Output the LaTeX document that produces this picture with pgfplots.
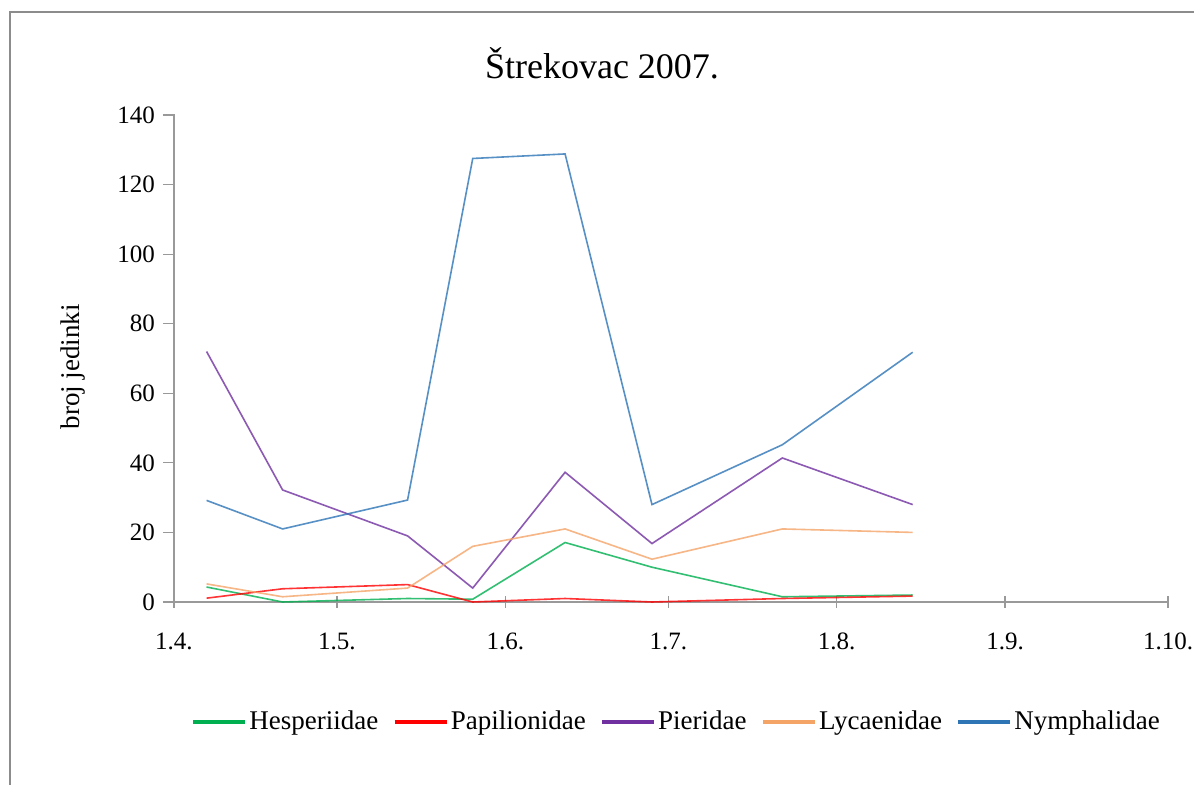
\documentclass[border=0pt]{standalone}
\usepackage{pgfplots}
\pgfplotsset{compat=1.18}
\usepackage{fontspec}
\setmainfont{Liberation Serif}
\definecolor{cHes}{HTML}{00B050}
\definecolor{cPap}{HTML}{FF0000}
\definecolor{cPie}{HTML}{7030A0}
\definecolor{cLyc}{HTML}{F5A468}
\definecolor{cNym}{HTML}{2E75B6}
\definecolor{axgray}{HTML}{999999}
\definecolor{bordergray}{HTML}{8C8C8C}
\begin{document}
\begin{tikzpicture}
\useasboundingbox (0,0) rectangle (597pt,392.5pt);
\fill[white] (0,0) rectangle (597pt,392.5pt);
\draw[bordergray,line width=1pt] (5pt,-2pt) -- (5pt,386.5pt) -- (600pt,386.5pt);
\node[font=\fontsize{18}{21}\selectfont] at (301pt,361pt) {Štrekovac 2007.};
\begin{axis}[
  at={(87pt,91.5pt)}, anchor=south west,
  scale only axis, width=497pt, height=243.5pt,
  xmin=0, xmax=183, ymin=0, ymax=140,
  axis x line=bottom, axis y line=left,
  axis line style={axgray,line width=0.8pt,-},
  xtick={0,30,61,91,122,153,183},
  xticklabels={1.4.,1.5.,1.6.,1.7.,1.8.,1.9.,1.10.},
  ytick={0,20,40,60,80,100,120,140},
  tick align=center, major tick length=6pt,
  tick style={axgray,line width=0.6pt},
  every y tick/.append style={xshift=-2.5pt},
  tick label style={font=\fontsize{12.5}{14}\selectfont},
  /pgf/number format/assume math mode=true,
  yticklabel style={xshift=-3pt},
  xticklabel style={yshift=-9pt},
  ylabel={broj jedinki},
  ylabel style={at={(axis description cs:-0.1016,0.483)}, anchor=center, font=\fontsize{13.5}{15}\selectfont},
  legend columns=5,
  legend style={at={(0.5055,-0.2464)}, anchor=center, draw=none, fill=none,
    font=\fontsize{13.5}{15}\selectfont, column sep=0pt,
    nodes={inner sep=1pt},
    /tikz/every even column/.append style={column sep=6pt}},
  legend image code/.code={\draw[#1,line width=2.2pt,draw opacity=1] (0pt,0pt) -- (26pt,0pt);},
  every axis plot/.append style={line width=0.8pt, mark=none, draw opacity=0.8},
  clip=false,
]
\addplot[cHes] coordinates {(6,4.3) (20,0) (43,1) (55,0.8) (72,17.1) (88,10) (112,1.5) (136,2)};
\addlegendentry{Hesperiidae}
\addplot[cPap] coordinates {(6,1.1) (20,3.8) (43,5) (55,0) (72,1) (88,0) (112,1) (136,1.7)};
\addlegendentry{Papilionidae}
\addplot[cPie] coordinates {(6,72) (20,32.2) (43,19) (55,4) (72,37.3) (88,16.8) (112,41.4) (136,28)};
\addlegendentry{Pieridae}
\addplot[cLyc] coordinates {(6,5.2) (20,1.5) (43,4) (55,16) (72,21) (88,12.3) (112,21) (136,20)};
\addlegendentry{Lycaenidae}
\addplot[cNym] coordinates {(6,29.2) (20,21) (43,29.3) (55,127.5) (72,128.8) (88,28) (112,45.2) (136,71.8)};
\addlegendentry{Nymphalidae}
\end{axis}
\end{tikzpicture}
\end{document}
